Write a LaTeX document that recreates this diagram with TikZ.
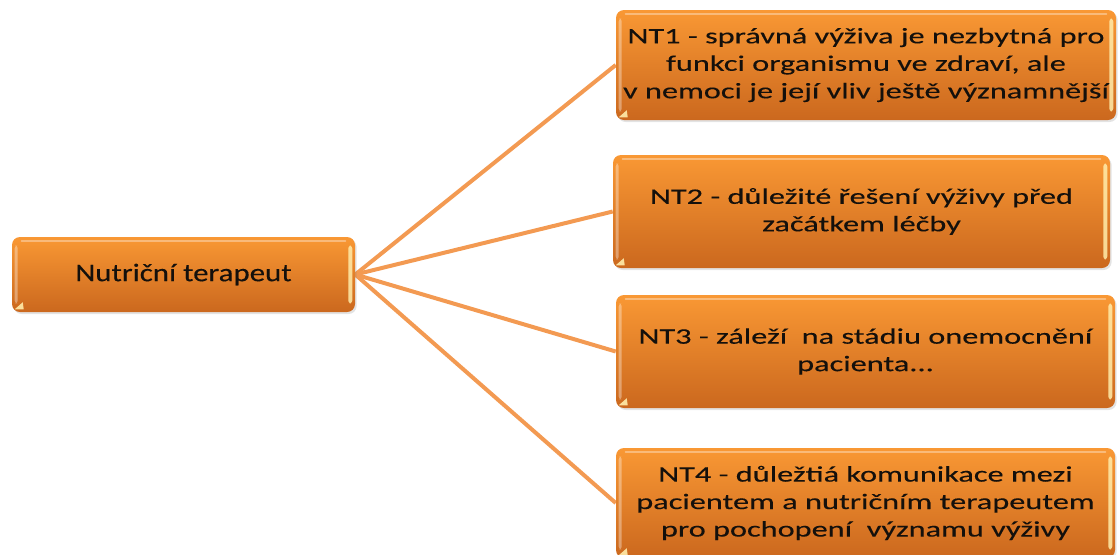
\documentclass[tikz,border=0pt]{standalone}
\usepackage{fontspec}
\setmainfont{Carlito}
\newfontfamily\leaffont{Carlito}[FakeStretch=1.46, FakeBold=0.2]
\newfontfamily\rootfont{Carlito}[FakeStretch=1.22, FakeBold=0.2]
\usetikzlibrary{calc,shadows,backgrounds}

\definecolor{orangetop}{RGB}{249,152,52}
\definecolor{orangebot}{RGB}{203,104,30}
\definecolor{linkorange}{RGB}{243,154,82}
\definecolor{glint}{RGB}{255,236,170}
\definecolor{inktext}{RGB}{20,16,12}

\tikzset{
  glossbox/.style={rectangle, rounded corners=6pt,
    top color=orangetop, bottom color=orangebot, draw=none,
    drop shadow={opacity=0.22, shadow xshift=1.2pt, shadow yshift=-1.5pt},
    text=inktext, align=center, inner sep=0pt},
  leafbox/.style={glossbox, font=\leaffont\fontsize{16.6pt}{20.6pt}\selectfont},
  rootbox/.style={glossbox, font=\rootfont\fontsize{19pt}{22pt}\selectfont},
  link/.style={draw=linkorange, line width=3pt},
}

% glossy highlights on a box: top rim, bright right edge, small corner glint
\newcommand\gloss[1]{%
  \draw[white, opacity=0.35, line width=1.6pt, line cap=round]
    ($(#1.north west)+(10,4)$) -- ($(#1.north east)+(-10,4)$);
  \fill[glint, opacity=0.85, rounded corners=2pt]
    ($(#1.north east)+(-7,9)$) rectangle ($(#1.south east)+(-3,-9)$);
  \fill[white, opacity=0.35, rounded corners=2pt]
    ($(#1.north west)+(3,9)$) rectangle ($(#1.south west)+(6,-9)$);
  \fill[glint, opacity=0.9]
    ($(#1.south west)+(3,-3)$) -- ++(9,0) -- ++(-1,-7) -- cycle;
}

\begin{document}
\begin{tikzpicture}[x=0.75pt, y=-0.75pt]
\useasboundingbox (0,0) rectangle (1118,554);

\node[rootbox, minimum width=0.75pt*343, minimum height=0.75pt*75]
  (root) at (183.5,274.5) {Nutriční terapeut};

\node[leafbox, minimum width=0.75pt*500, minimum height=0.75pt*110]
  (nt1) at (866,65)
  {NT1 - správná výživa je nezbytná pro\\funkci organismu ve zdraví, ale\\v nemoci je její vliv ještě významnější};
\node[leafbox, minimum width=0.75pt*497, minimum height=0.75pt*113]
  (nt2) at (861.5,211.5)
  {NT2 - důležité řešení výživy před\\začátkem léčby};
\node[leafbox, minimum width=0.75pt*499, minimum height=0.75pt*113]
  (nt3) at (865.5,351.5)
  {NT3 - záleží\ \ na stádiu onemocnění\\pacienta...};
\node[leafbox, minimum width=0.75pt*499, minimum height=0.75pt*110]
  (nt4) at (865.5,503)
  {NT4 - důležtiá komunikace mezi\\pacientem a nutričním terapeutem\\pro pochopení\ \ významu výživy};

\gloss{root}
\gloss{nt1}
\gloss{nt2}
\gloss{nt3}
\gloss{nt4}

\begin{scope}[on background layer]
  \foreach \leaf in {nt1,nt2,nt3,nt4}
    \draw[link] (root.east) -- (\leaf.west);
\end{scope}
\end{tikzpicture}
\end{document}
